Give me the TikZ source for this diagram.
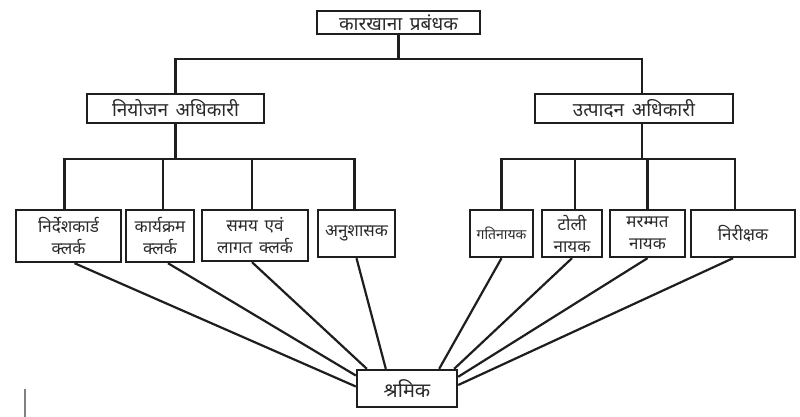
\documentclass[tikz,border=0pt]{standalone}
\usepackage{fontspec}
\newfontfamily\devfont[Script=Devanagari]{Noto Sans}
\newcommand\devwide{\spaceskip=0.4em plus 0.1em\relax}
\usepackage{xcolor}
\usepackage{tikz}
\definecolor{BoxBlack}{HTML}{1E1E1E}
\definecolor{TextGrey}{HTML}{2A2A2A}

\begin{document}
\begin{tikzpicture}[x=1pt, y=-1pt, every node/.style={transform shape}]
    \tikzstyle{block} = [rectangle, draw=BoxBlack, line width=2.4pt, inner sep=0pt, align=center, text=TextGrey, font=\devfont\fontsize{17}{22}\selectfont\devwide]
    \tikzstyle{head} = [block, font=\devfont\fontsize{19}{22}\selectfont\devwide]
    \tikzstyle{line} = [draw=BoxBlack, line width=2.2pt]
    \useasboundingbox (0,0) rectangle (800,417);

    % top and middle level
    \node [head, minimum width=163pt, minimum height=23pt] (manager) at (398.5,22.5) {कारखाना प्रबंधक};
    \node [head, minimum width=177pt, minimum height=29pt] (planning) at (175.5,108.5) {नियोजन अधिकारी};
    \node [head, minimum width=198pt, minimum height=29pt] (production) at (634,108.5) {उत्पादन अधिकारी};

    % planning clerks
    \node [block, minimum width=105pt, minimum height=52pt] (cardclerk) at (68.5,236) {निर्देशकार्ड\\क्लर्क};
    \node [block, minimum width=68pt, minimum height=52pt] (routeclerk) at (160,236) {कार्यक्रम\\क्लर्क};
    \node [block, minimum width=106pt, minimum height=51pt] (costclerk) at (255,235.5) {समय एवं\\लागत क्लर्क};
    \node [block, minimum width=77pt, minimum height=47pt] (discipline) at (356.5,233.5) {अनुशासक};

    % production foremen
    \node [block, minimum width=63pt, minimum height=47pt, font=\devfont\fontsize{14}{16}\selectfont] (speedboss) at (501.5,233.5) {गतिनायक};
    \node [block, minimum width=60pt, minimum height=47pt] (gangboss) at (572,233.5) {टोली\\नायक};
    \node [block, minimum width=75pt, minimum height=47pt] (repairboss) at (647.5,233.5) {मरम्मत\\नायक};
    \node [block, minimum width=104pt, minimum height=47pt] (inspector) at (743,233.5) {निरीक्षक};

    \node [block, minimum width=100pt, minimum height=37pt, font=\devfont\fontsize{20}{22}\selectfont] (worker) at (407,388.5) {श्रमिक};

    \path [line] (manager.south) -- ++(0,24) -| (planning.north);
    \path [line] (manager.south) -- ++(0,24) -| ([xshift=8pt]production.north);

    \path [line] (planning.south) -- ++(0,35) -| ([xshift=-4pt]cardclerk.north);
    \path [line] (planning.south) -- ++(0,35) -| ([xshift=3pt]routeclerk.north);
    \path [line] (planning.south) -- ++(0,35) -| ([xshift=-3pt]costclerk.north);
    \path [line] (planning.south) -- ++(0,35) -| ([xshift=-2pt]discipline.north);

    \path [line] ([xshift=8pt]production.south) -- ++(0,35) -| (speedboss.north);
    \path [line] ([xshift=8pt]production.south) -- ++(0,35) -| ([xshift=3pt]gangboss.north);
    \path [line] ([xshift=8pt]production.south) -- ++(0,35) -| (repairboss.north);
    \path [line] ([xshift=8pt]production.south) -- ++(0,35) -| ([xshift=-8pt]inspector.north);

    % every clerk and foreman reaches the worker
    \path [line] ([xshift=6pt]cardclerk.south) -- ([yshift=2pt]worker.west);
    \path [line] ([xshift=8pt]routeclerk.south) -- ([yshift=13pt]worker.west);
    \path [line] ([xshift=-3pt]costclerk.south) -- ([xshift=11pt]worker.north west);
    \path [line] (discipline.south) -- ([xshift=30pt]worker.north west);
    \path [line] (speedboss.south) -- ([xshift=-19pt]worker.north east);
    \path [line] (gangboss.south) -- ([xshift=-4pt]worker.north east);
    \path [line] (repairboss.south) -- ([yshift=-8pt]worker.north east);
    \path [line] ([xshift=-10pt]inspector.south) -- ([yshift=3.5pt]worker.east);

    \draw [gray, line width=2.5pt] (25,389) -- (25,417);
\end{tikzpicture}
\end{document}
